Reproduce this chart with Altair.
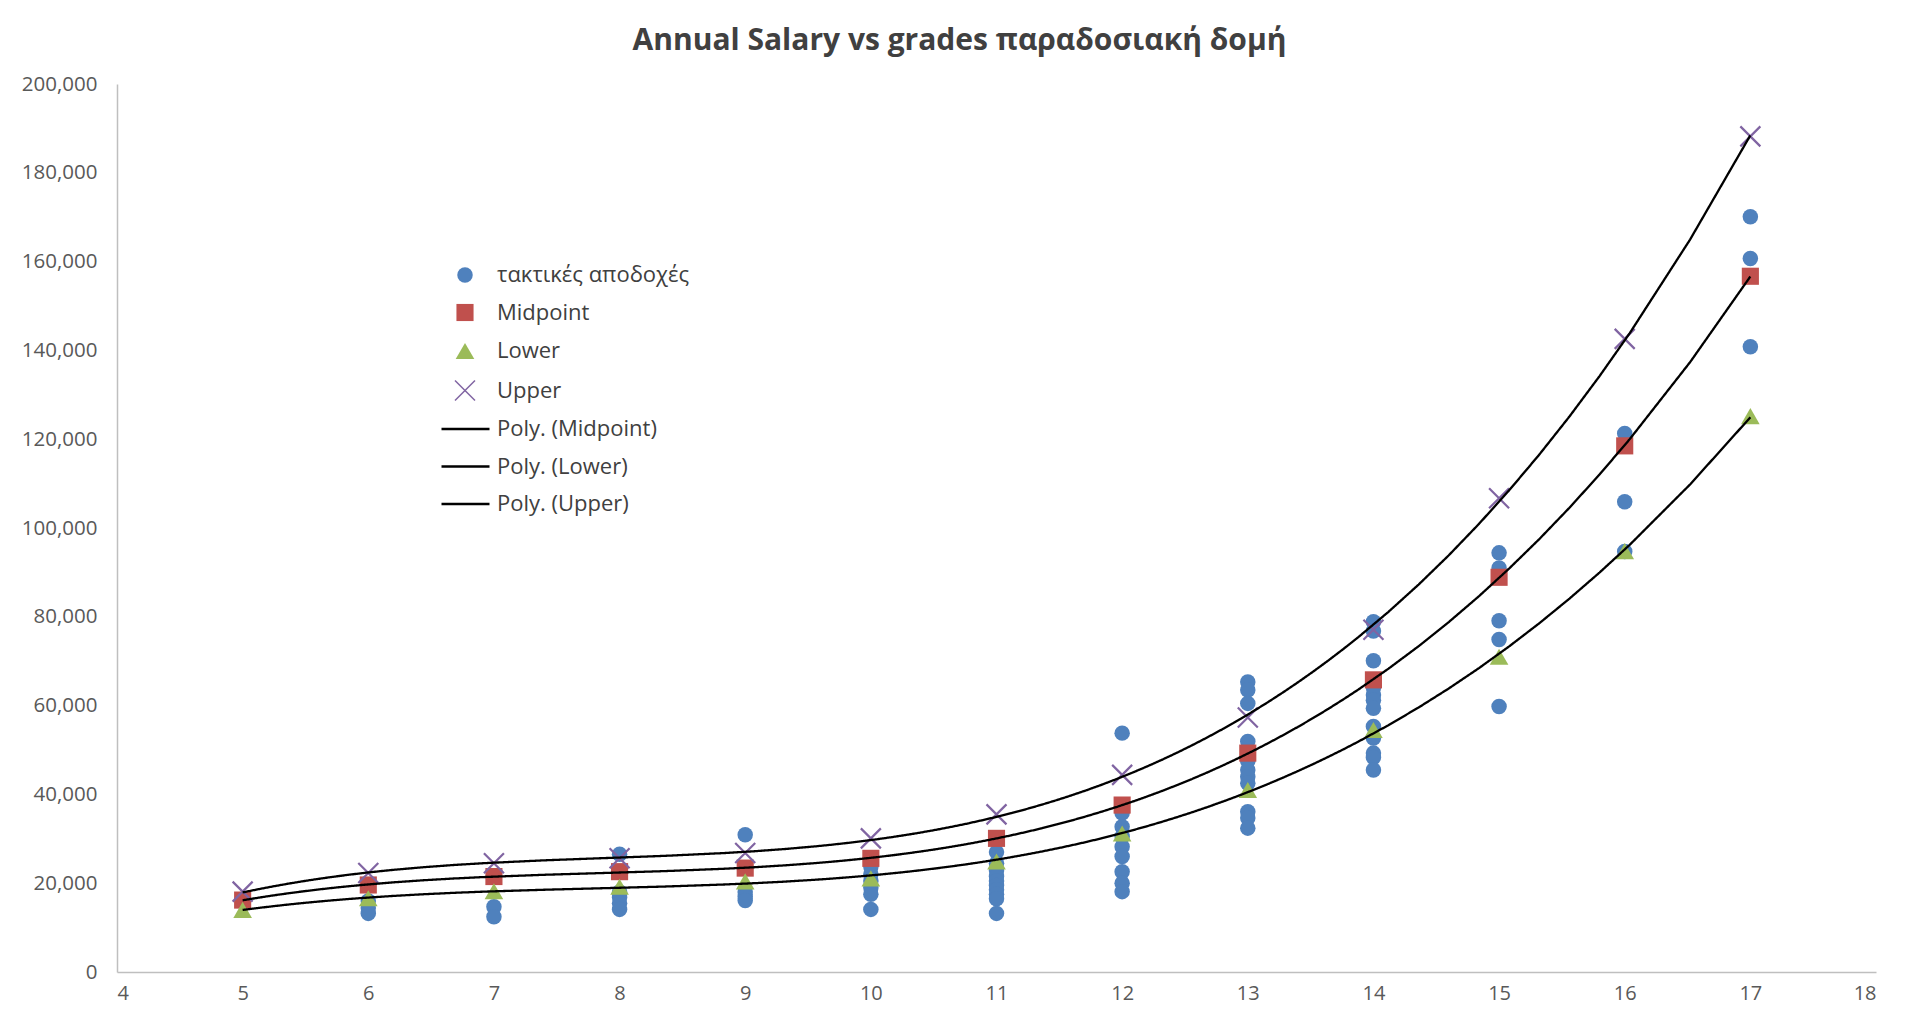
import altair as alt
import pandas as pd

# ---- data ----
grades = [5, 6, 7, 8, 9, 10, 11, 12, 13, 14, 15, 16, 17]
midpoint = [16200, 19600, 21500, 22600, 23400, 25600, 30100, 37600, 49300, 65800, 88900, 118500, 156700]
lower = [14000, 16600, 18200, 19200, 20400, 21100, 24900, 31200, 41000, 54500, 71000, 94800, 125200]
upper = [18100, 22300, 24500, 25600, 26800, 30100, 35500, 44400, 57300, 77100, 106700, 142600, 188200]

dot_grade = ([6] * 3 + [7] * 2 + [8] * 5 + [9] * 4 + [10] * 6 + [11] * 10 + [12] * 9
             + [13] * 11 + [14] * 12 + [15] * 5 + [16] * 3 + [17] * 3)
dot_salary = [16000, 14400, 13200,
              14700, 12450,
              26500, 18000, 16800, 15500, 14100,
              30900, 18000, 17000, 16100,
              23700, 22000, 20500, 19000, 17500, 14100,
              27000, 24500, 22800, 21500, 20500, 19500, 18500, 17500, 16500, 13200,
              53800, 35800, 32700, 30500, 28200, 26000, 22600, 20000, 18100,
              65300, 63500, 60500, 51900, 47500, 45500, 44000, 42500, 36100, 34700, 32400,
              78900, 76800, 70100, 64000, 62400, 61200, 59400, 55300, 52700, 49300, 48300, 45500,
              94400, 91000, 79100, 74900, 59800,
              121300, 105900, 94700,
              170100, 160700, 140800]

series_names = ["τακτικές αποδοχές", "Midpoint", "Lower", "Upper"]
trend_names = ["Poly. (Midpoint)", "Poly. (Lower)", "Poly. (Upper)"]
title_text = "Annual Salary vs grades παραδοσιακή δομή"

# ---- styles ----
fill_colors = ["#4F81BD", "#C0504D", "#9BBB59", "#8064A2"]
stroke_colors = ["transparent", "transparent", "transparent", "#8064A2"]
shapes = ["circle", "square", "triangle-up", "M-1,-1L1,1M-1,1L1,-1"]
sizes = [240, 400, 400, 280]
FONT = "Open Sans"
AXIS_GREY = "#595959"

rows = [{"grade": g, "salary": v, "series": series_names[0]} for g, v in zip(dot_grade, dot_salary)]
for name, vals in ((series_names[1], midpoint), (series_names[2], lower), (series_names[3], upper)):
    rows += [{"grade": g, "salary": v, "series": name} for g, v in zip(grades, vals)]
df = pd.DataFrame(rows)

x_scale = alt.Scale(domain=[4, 18], nice=False, zero=False)
y_scale = alt.Scale(domain=[0, 200000], nice=False)

x_axis = alt.Axis(values=list(range(4, 19)), format="d", title=None, grid=False,
                  ticks=False, tickSize=0, domainColor="#BFBFBF", domainWidth=1.5,
                  labelFont=FONT, labelFontSize=20, labelColor=AXIS_GREY, labelPadding=11)
y_axis = alt.Axis(values=list(range(0, 200001, 20000)), format=",d", title=None, grid=False,
                  ticks=False, tickSize=0, domainColor="#BFBFBF", domainWidth=1.5,
                  labelFont=FONT, labelFontSize=20.5, labelColor=AXIS_GREY, labelPadding=20)

legend_pts = alt.Legend(title=None, orient="none", legendX=337, legendY=180,
                        labelFont=FONT, labelFontSize=22, labelColor="#404040", labelLimit=0,
                        rowPadding=14.5, labelOffset=21, symbolOpacity=1)
legend_lines = alt.Legend(title=None, orient="none", legendX=323, legendY=319.5,
                          labelFont=FONT, labelFontSize=22, labelColor="#404040", labelLimit=0,
                          rowPadding=0.5, labelOffset=6, symbolType="stroke",
                          symbolSize=2304, symbolStrokeColor="black", symbolStrokeWidth=2.4)

points = alt.Chart(df).mark_point(filled=True, opacity=1, strokeWidth=2.2).encode(
    x=alt.X("grade:Q", scale=x_scale, axis=x_axis),
    y=alt.Y("salary:Q", scale=y_scale, axis=y_axis),
    fill=alt.Fill("series:N", scale=alt.Scale(domain=series_names, range=fill_colors), legend=legend_pts),
    stroke=alt.Stroke("series:N", scale=alt.Scale(domain=series_names, range=stroke_colors), legend=legend_pts),
    shape=alt.Shape("series:N", scale=alt.Scale(domain=series_names, range=shapes), legend=legend_pts),
    size=alt.Size("series:N", scale=alt.Scale(domain=series_names, range=sizes), legend=legend_pts),
)

lines = alt.Chart(df).transform_filter(
    alt.datum.series != series_names[0]
).transform_regression(
    "grade", "salary", groupby=["series"], method="poly", order=3, extent=[5, 17]
).transform_calculate(
    trend="'Poly. (' + datum.series + ')'"
).mark_line(color="black", strokeWidth=2.3).encode(
    x=alt.X("grade:Q", scale=x_scale, axis=x_axis),
    y=alt.Y("salary:Q", scale=y_scale, axis=y_axis),
    strokeDash=alt.StrokeDash("trend:N", scale=alt.Scale(domain=trend_names, range=[[1, 0], [1, 0], [1, 0]]),
                              legend=legend_lines),
)

chart = alt.layer(points, lines).properties(
    width=1759, height=888,
    title=alt.Title(title_text, font=FONT, fontSize=30, fontWeight="bold", color="#404040",
                    anchor="middle", dx=-37, offset=18),
    autosize=alt.AutoSizeParams(type="none"),
    padding={"left": 109, "top": 76, "right": 30, "bottom": 36},
).resolve_legend(strokeDash="independent").configure(
    background="white"
).configure_view(stroke=None, strokeWidth=0)

chart.save("out.html", embed_options={"renderer": "svg", "actions": False})
